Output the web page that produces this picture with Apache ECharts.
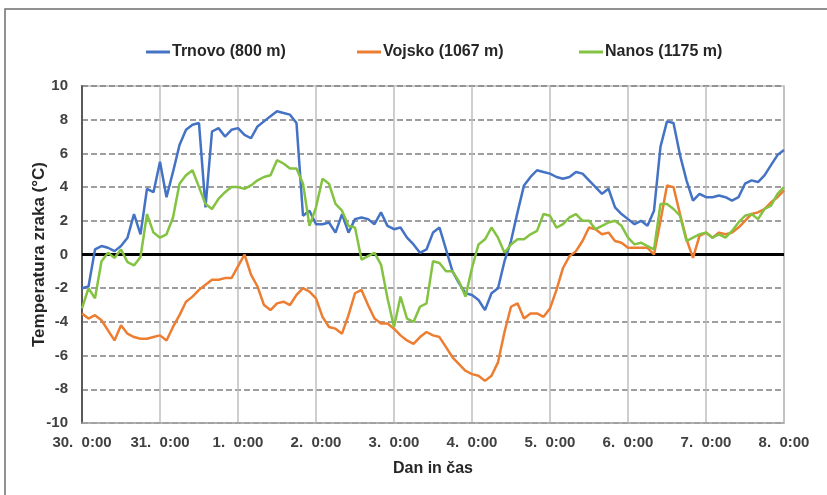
<!DOCTYPE html>
<html>
<head>
<meta charset="utf-8">
<script src="https://cdn.jsdelivr.net/npm/echarts@6/dist/echarts.min.js"></script>
<style>
  html, body { margin: 0; padding: 0; background: #fff; }
  #chart { width: 827px; height: 495px; }
</style>
</head>
<body>
<div id="chart"></div>
<script>
// temperatura zraka, vsaki 2 uri od 30. 0:00 do 8. 0:00
const dayLabels = ["30.", "31.", "1.", "2.", "3.", "4.", "5.", "6.", "7.", "8."];
const seriesNames = ["Trnovo (800 m)", "Vojsko (1067 m)", "Nanos (1175 m)"];

const trnovo = [
  -2.0, -1.9, 0.3, 0.5, 0.4, 0.2, 0.5, 1.0, 2.4, 1.2, 3.9, 3.7, 5.5,
  3.4, 4.9, 6.5, 7.4, 7.7, 7.8, 2.8, 7.3, 7.5, 7.0, 7.4, 7.5, 7.1,
  6.9, 7.6, 7.9, 8.2, 8.5, 8.4, 8.3, 7.8, 2.3, 2.6, 1.8, 1.8, 1.9,
  1.3, 2.4, 1.3, 2.1, 2.2, 2.1, 1.8, 2.5, 1.7, 1.5, 1.6, 1.0, 0.6,
  0.1, 0.3, 1.3, 1.6, 0.3, -1.0, -1.7, -2.3, -2.4, -2.7, -3.3, -2.3, -2.0,
  -0.4, 0.8, 2.5, 4.1, 4.6, 5.0, 4.9, 4.8, 4.6, 4.5, 4.6, 4.9, 4.8,
  4.4, 4.0, 3.6, 3.9, 2.8, 2.4, 2.1, 1.8, 2.0, 1.7, 2.6, 6.4, 7.9,
  7.8, 5.9, 4.4, 3.2, 3.6, 3.4, 3.4, 3.5, 3.4, 3.2, 3.4, 4.2, 4.4,
  4.3, 4.7, 5.3, 5.9, 6.2
];

const vojsko = [
  -3.5, -3.8, -3.6, -3.9, -4.5, -5.1, -4.2, -4.7, -4.9, -5.0, -5.0, -4.9, -4.8,
  -5.1, -4.3, -3.6, -2.8, -2.5, -2.1, -1.8, -1.5, -1.5, -1.4, -1.4, -0.7, 0.0,
  -1.2, -1.9, -3.0, -3.3, -2.9, -2.8, -3.0, -2.4, -2.0, -2.2, -2.6, -3.7, -4.3,
  -4.4, -4.7, -3.6, -2.3, -2.1, -3.0, -3.8, -4.1, -4.1, -4.4, -4.8, -5.1, -5.3,
  -4.9, -4.6, -4.8, -4.9, -5.5, -6.1, -6.5, -6.9, -7.1, -7.2, -7.5, -7.2, -6.4,
  -4.6, -3.1, -2.9, -3.8, -3.5, -3.5, -3.7, -3.2, -2.1, -0.8, -0.1, 0.2, 0.8,
  1.6, 1.5, 1.2, 1.3, 0.8, 0.7, 0.4, 0.4, 0.4, 0.4, 0.0, 2.0, 4.1,
  4.0, 2.4, 0.9, -0.2, 1.1, 1.3, 1.0, 1.3, 1.2, 1.3, 1.6, 2.0, 2.4,
  2.5, 2.7, 3.1, 3.4, 3.8
];

const nanos = [
  -3.2, -2.0, -2.6, -0.4, 0.1, -0.2, 0.3, -0.45, -0.65, -0.15, 2.4, 1.3, 1.0,
  1.2, 2.2, 4.2, 4.7, 5.0, 4.0, 3.0, 2.7, 3.3, 3.7, 4.0, 4.0, 3.9,
  4.1, 4.4, 4.6, 4.7, 5.6, 5.4, 5.1, 5.1, 4.2, 1.7, 2.8, 4.5, 4.2,
  3.0, 2.6, 1.7, 1.6, -0.3, -0.1, 0.1, -0.6, -2.6, -4.3, -2.5, -3.8, -4.0,
  -3.1, -2.9, -0.4, -0.5, -1.0, -1.0, -1.6, -2.5, -0.8, 0.6, 0.9, 1.6, 1.0,
  0.1, 0.6, 0.9, 0.9, 1.2, 1.4, 2.4, 2.3, 1.6, 1.8, 2.2, 2.4, 2.0,
  2.0, 1.5, 1.7, 1.9, 2.0, 1.7, 1.0, 0.6, 0.7, 0.5, 0.3, 3.0, 3.0,
  2.7, 2.3, 0.8, 1.0, 1.2, 1.3, 1.0, 1.2, 1.0, 1.4, 1.9, 2.3, 2.4,
  2.1, 2.7, 2.9, 3.6, 4.0
];

const stepHours = 2;
const hours = trnovo.map((_, i) => i * stepHours);
const pairs = (vals) => vals.map((v, i) => [hours[i], v]);

const font = "Liberation Sans, Arial, sans-serif";
const legendLeft = [141, 352, 574];

const chart = echarts.init(document.getElementById("chart"));

chart.setOption({
  backgroundColor: "#fff",
  animation: false,
  color: ["#4472C4", "#ED7D31", "#84C341"],
  // okvir slike (zgoraj in levo)
  graphic: [{
    type: "rect",
    shape: { x: 5, y: 9, width: 900, height: 600 },
    style: { fill: "none", stroke: "#6e6e6e", lineWidth: 1.5 },
    silent: true
  }],
  legend: seriesNames.map((n, k) => ({
    left: legendLeft[k],
    top: 39,
    icon: "rect",
    itemWidth: 24,
    itemHeight: 3,
    textStyle: { fontFamily: font, fontWeight: "bold", fontSize: 16, color: "#262626", padding: [0, 0, 0, -3] },
    data: [n]
  })),
  grid: {
    left: 82, right: 43, top: 86, bottom: 72,
    show: true,
    borderColor: "#bfbfbf",
    borderWidth: 1.5
  },
  xAxis: {
    type: "value",
    min: 0,
    max: 216,
    interval: 24,
    name: "Dan in čas",
    nameLocation: "middle",
    nameGap: 38,
    nameTextStyle: { fontFamily: font, fontWeight: "bold", fontSize: 16, color: "#262626" },
    axisLine: { onZero: false, lineStyle: { color: "#a6a6a6", width: 1.5 } },
    axisTick: { show: false },
    axisLabel: {
      margin: 12,
      fontFamily: font, fontWeight: "bold", fontSize: 15, color: "#404040",
      formatter: (v) => dayLabels[Math.round(v / 24)] + "  0:00"
    },
    splitLine: { show: true, lineStyle: { color: "#bfbfbf", width: 1.5 } }
  },
  yAxis: {
    type: "value",
    min: -10,
    max: 10,
    interval: 2,
    name: "Temperatura zraka (°C)",
    nameLocation: "middle",
    nameGap: 34,
    nameMoveOverlap: false,
    nameTextStyle: { fontFamily: font, fontWeight: "bold", fontSize: 17, color: "#262626" },
    axisLine: { show: true, lineStyle: { color: "#595959", width: 2 } },
    axisTick: { show: false },
    axisLabel: { margin: 14, fontFamily: font, fontWeight: "bold", fontSize: 15, color: "#404040" },
    splitLine: { show: true, lineStyle: { color: "#808080", width: 1.5, type: [6, 3] } }
  },
  series: [
    {
      name: seriesNames[0], type: "line", data: pairs(trnovo),
      showSymbol: false, lineStyle: { width: 2.5 }, z: 3,
      markLine: {
        silent: true, symbol: "none", label: { show: false },
        lineStyle: { color: "#000", width: 3, type: "solid" },
        data: [{ yAxis: 0 }],
        z: 1
      }
    },
    { name: seriesNames[1], type: "line", data: pairs(vojsko), showSymbol: false, lineStyle: { width: 2.5 }, z: 3 },
    { name: seriesNames[2], type: "line", data: pairs(nanos), showSymbol: false, lineStyle: { width: 2.5 }, z: 3 }
  ]
});
</script>
</body>
</html>
